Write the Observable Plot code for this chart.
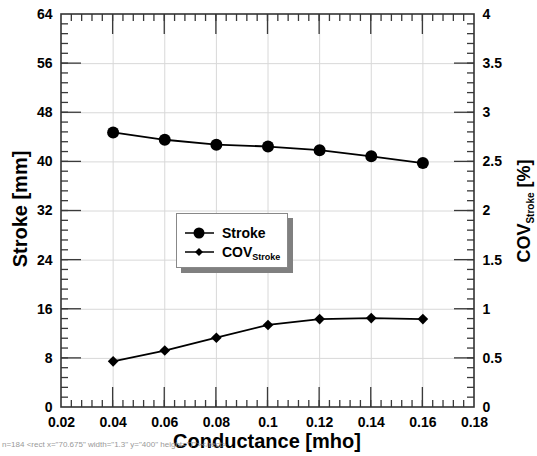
<!DOCTYPE html>
<html><head><meta charset="utf-8">
<script src="https://cdn.jsdelivr.net/npm/d3@7"></script>
<script src="https://cdn.jsdelivr.net/npm/@observablehq/plot@0.6"></script>
<style>
body{margin:0;background:#fff;}
#wrap{position:relative;width:537px;height:456px;font-family:"Liberation Sans",Arial,sans-serif;}
#legend{position:absolute;left:176px;top:213px;width:110px;height:53px;background:#fff;border:1px solid #888;box-shadow:5px 5px 0 #808080;}
#legend svg{display:block;}
#dbg{position:absolute;left:2px;top:440px;font-size:8px;color:#999;white-space:pre;}
</style></head><body><div id="wrap"></div>
<script>
// ---- data ----
const conductance = [0.04, 0.06, 0.08, 0.10, 0.12, 0.14, 0.16];
const strokeMM   = [44.8, 43.6, 42.8, 42.5, 41.9, 40.9, 39.8];
const covStroke  = [0.47, 0.58, 0.71, 0.84, 0.90, 0.91, 0.90];
const xTicks      = [0.02, 0.04, 0.06, 0.08, 0.10, 0.12, 0.14, 0.16, 0.18];
const yLeftTicks  = [0, 8, 16, 24, 32, 40, 48, 56, 64];
const yRightTicks = [0, 0.5, 1, 1.5, 2, 2.5, 3, 3.5, 4];
const seriesNames = ["Stroke", "COV"];

const W = 537, H = 456, mL = 61, mR = 63, mT = 14, mB = 49;
const xDom = [0.02, 0.18], yDom = [0, 64];
const covFactor = 64 / 4; // right axis 0..4 maps onto left axis 0..64
const rows = conductance.map((c, i) => ({c, s: strokeMM[i], v: covStroke[i] * covFactor}));
const xInner = xTicks.slice(1, -1);
const yInner = yLeftTicks.slice(1, -1);
const xMinor = d3.range(1, 40).map(i => 0.02 + i * 0.004);
const yMinor = d3.range(1, 40).map(i => i * 1.6);
const rightPos = yRightTicks.map(v => v * covFactor);

const labelStyle = {tickSize: 0, fontSize: 14, fontWeight: "bold", fill: "#000", label: null};

const chart = Plot.plot({
  width: W, height: H,
  marginLeft: mL, marginRight: mR, marginTop: mT, marginBottom: mB,
  style: {fontFamily: '"Liberation Sans", Arial, sans-serif'},
  x: {domain: xDom},
  y: {domain: yDom},
  marks: [
    Plot.ruleX(xInner, {x: d => d, stroke: "#d8d8d8", strokeWidth: 1}),
    Plot.ruleY(yInner, {y: d => d, stroke: "#d8d8d8", strokeWidth: 1}),
    Plot.axisX(xTicks, {anchor: "bottom", tickPadding: 10, tickFormat: d => String(+d.toFixed(2)), ...labelStyle}),
    Plot.axisY(yLeftTicks, {anchor: "left", tickPadding: 9, tickFormat: d => String(d), ...labelStyle}),
    Plot.axisY(rightPos, {anchor: "right", tickPadding: 8, tickFormat: d => String(d / covFactor), ...labelStyle}),
    Plot.line(rows, {x: "c", y: "s", stroke: "#000", strokeWidth: 1.8}),
    Plot.dot(rows, {x: "c", y: "s", r: 6, fill: "#000", stroke: "none"}),
    Plot.line(rows, {x: "c", y: "v", stroke: "#000", strokeWidth: 1.8}),
    Plot.dot(rows, {x: "c", y: "v", r: 4.8, symbol: "diamond2", fill: "#000", stroke: "none"})
  ]
});

const wrap = document.getElementById("wrap");
wrap.appendChild(chart);

const svg = d3.select(chart);
const sx = chart.scale("x"), sy = chart.scale("y");
const xa = sx.apply(xDom[0]), xb = sx.apply(xDom[1]);
const ya = sy.apply(yDom[0]), yb = sy.apply(yDom[1]);

// inward ruler ticks on all four sides, as thin filled rects placed with Plot's scales
const tg = svg.append("g").attr("fill", "#3a3a3a");
function addTicks(xs, ys, len) {
  const w = 1.3;
  xs.forEach(v => {
    const px = sx.apply(v);
    tg.append("rect").attr("x", px - w / 2).attr("width", w).attr("y", ya - len).attr("height", len);
    tg.append("rect").attr("x", px - w / 2).attr("width", w).attr("y", yb).attr("height", len);
  });
  ys.forEach(v => {
    const py = sy.apply(v);
    tg.append("rect").attr("y", py - w / 2).attr("height", w).attr("x", xa).attr("width", len);
    tg.append("rect").attr("y", py - w / 2).attr("height", w).attr("x", xb - len).attr("width", len);
  });
}
addTicks(xMinor, yMinor, 7);
addTicks(xInner, yInner, 20);
svg.append("rect").attr("x", xa).attr("y", yb).attr("width", xb - xa).attr("height", ya - yb)
  .attr("fill", "none").attr("stroke", "#333").attr("stroke-width", 1.6);

const tf = '"Liberation Sans", Arial, sans-serif';
svg.append("text").attr("transform", "translate(27,209) rotate(-90)")
  .attr("text-anchor", "middle").attr("font-family", tf).attr("font-size", 20).attr("font-weight", "bold")
  .attr("fill", "#000").text("Stroke [mm]");
const rt = svg.append("text").attr("transform", "translate(530,211) rotate(-90)")
  .attr("text-anchor", "middle").attr("font-family", tf).attr("font-size", 18).attr("font-weight", "bold").attr("fill", "#000");
rt.append("tspan").text("COV");
rt.append("tspan").attr("font-size", 10).attr("dy", 4).text("Stroke");
rt.append("tspan").attr("dy", -4).text(" [%]");
svg.append("text").attr("x", 267).attr("y", 448)
  .attr("text-anchor", "middle").attr("font-family", tf).attr("font-size", 20).attr("font-weight", "bold")
  .attr("fill", "#000").text("Conductance [mho]");

// legend
const leg = document.createElement("div");
leg.id = "legend";
wrap.appendChild(leg);
const ls = d3.select(leg).append("svg").attr("width", 110).attr("height", 53);
ls.append("line").attr("x1", 8).attr("x2", 37).attr("y1", 19).attr("y2", 19).attr("stroke", "#000").attr("stroke-width", 1.5);
ls.append("circle").attr("cx", 22).attr("cy", 19).attr("r", 5.5).attr("fill", "#000");
ls.append("text").attr("x", 45).attr("y", 24).attr("font-family", tf).attr("font-size", 14).attr("font-weight", "bold").text(seriesNames[0]);
ls.append("line").attr("x1", 8).attr("x2", 37).attr("y1", 38).attr("y2", 38).attr("stroke", "#000").attr("stroke-width", 1.5);
ls.append("path").attr("d", d3.symbol(d3.symbolDiamond2, 40)()).attr("transform", "translate(22,38)").attr("fill", "#000");
const lt = ls.append("text").attr("x", 45).attr("y", 43).attr("font-family", tf).attr("font-size", 14).attr("font-weight", "bold");
lt.append("tspan").text(seriesNames[1]);
lt.append("tspan").attr("font-size", 9).attr("dy", 3).text("Stroke");

// diagnostic
const dbg = document.createElement("div");
dbg.id = "dbg";
const r0 = tg.node().firstChild;
dbg.textContent = "n=" + tg.node().childNodes.length + " " + (r0 ? r0.outerHTML.slice(0, 90) : "none");
wrap.appendChild(dbg);
</script>
</body></html>
